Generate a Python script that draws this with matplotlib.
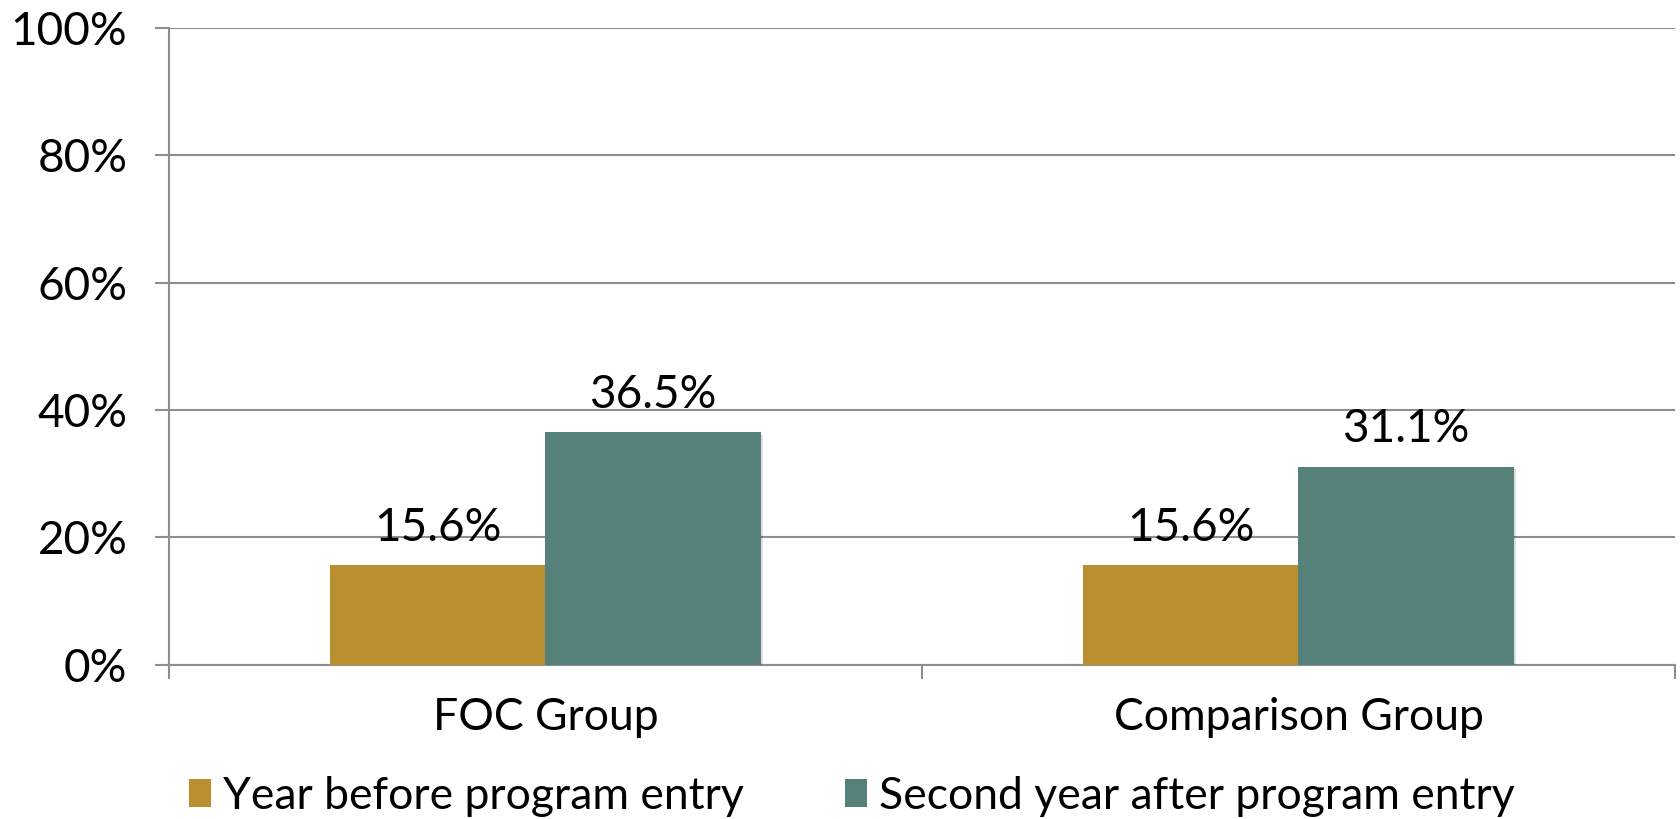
import matplotlib
matplotlib.use("Agg")
import matplotlib.pyplot as plt
import matplotlib.patheffects as pe
from matplotlib.patches import Patch
import numpy as np

groups = ["FOC Group", "Comparison Group"]
series_names = ["Year before program entry", "Second year after program entry"]
before_entry = [15.6, 15.6]
second_year = [36.5, 31.1]
y_ticks = [0, 20, 40, 60, 80, 100]
y_tick_labels = ["0%", "20%", "40%", "60%", "80%", "100%"]

colors = ["#B98F2F", "#56817A"]
grid_color = "#8E8E8E"

plt.rcParams["font.family"] = ["Lato", "DejaVu Sans"]

fig = plt.figure(figsize=(16.8, 8.19), dpi=100)
ax = fig.add_axes([0.1006, 0.1884, 0.8964, 0.7774])

x = np.arange(len(groups))
width = 1 / 3.5
shadow = [pe.SimplePatchShadow(offset=(2, -2), shadow_rgbFace="#000000", alpha=0.13), pe.Normal()]

for i, (vals, c) in enumerate(zip([before_entry, second_year], colors)):
    offs = (i - 0.5) * width
    bars = ax.bar(x + offs, vals, width=width, color=c, zorder=3, label=series_names[i])
    for b in bars:
        b.set_path_effects(shadow)
    for xi, v in zip(x + offs, vals):
        ax.annotate(f"{v:.1f}%", (xi, v), xytext=(0, 27), textcoords="offset points",
                    ha="center", va="center", fontsize=33, color="black")

ax.set_xlim(-0.5, len(groups) - 0.5)
ax.set_ylim(0, 100)
ax.set_yticks(y_ticks)
ax.set_yticklabels(y_tick_labels)
ax.yaxis.grid(True, color=grid_color, linewidth=1.5, zorder=0)
ax.set_axisbelow(True)

# Category boundaries carry the tick marks; names sit at the centres
ax.set_xticks(np.arange(-0.5, len(groups), 1.0))
ax.set_xticklabels([])
ax.set_xticks(x, minor=True)
ax.set_xticklabels(groups, minor=True)
ax.tick_params(axis="x", which="major", length=10, width=1.5, color=grid_color, direction="out")
ax.tick_params(axis="x", which="minor", length=0, pad=23, labelsize=32)
ax.tick_params(axis="y", length=10, width=1.5, color=grid_color, direction="out", pad=20, labelsize=33)

for s in ["top", "right"]:
    ax.spines[s].set_visible(False)
for s in ["left", "bottom"]:
    ax.spines[s].set_color(grid_color)
    ax.spines[s].set_linewidth(1.5)

handles = [Patch(facecolor=c, edgecolor="none") for c in colors]
fig.legend(handles, series_names, loc="center left", bbox_to_anchor=(0.1123, 0.028), ncol=2,
           frameon=False, fontsize=32, handlelength=0.5, handleheight=0.6, handletextpad=0.27,
           columnspacing=2.27, borderpad=0, borderaxespad=0)

fig.savefig("out.png", dpi=100)
